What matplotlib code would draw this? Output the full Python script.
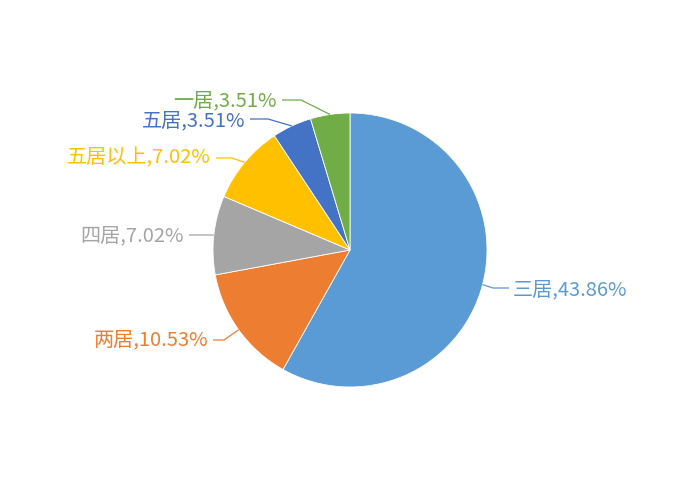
import numpy as np
import matplotlib
matplotlib.use('Agg')
import matplotlib.pyplot as plt

plt.rcParams['font.family'] = ['Noto Sans CJK SC', 'DejaVu Sans']

# 数据
labels = ['三居', '两居', '四居', '五居以上', '五居', '一居']
percents = [43.86, 10.53, 7.02, 7.02, 3.51, 3.51]
colors = ['#5B9BD5', '#ED7D31', '#A5A5A5', '#FFC000', '#4472C4', '#70AD47']

# 标签位置 (像素, 自上而下), 对齐方式, 引线拐点
label_pos = [(513, 290), (208, 340), (184, 236), (211, 158), (245, 121), (277, 101)]
label_ha = ['left', 'right', 'right', 'right', 'right', 'right']
elbows = [(493, 288), (224, 340), (206, 235), (232, 158), (268, 119), (301, 100)]

W, H = 700, 500
cx, cy, r = 350, 250, 137

fig = plt.figure(figsize=(7, 5), dpi=100)
ax = fig.add_axes([0, 0, 1, 1])

wedges, _ = ax.pie(percents, colors=colors, startangle=90, counterclock=False,
                   center=(cx, H - cy), radius=r, frame=True,
                   wedgeprops=dict(edgecolor='white', linewidth=0.6))
ax.set_xlim(0, W)
ax.set_ylim(0, H)
ax.set_aspect('equal')
ax.axis('off')

for w, lab, p, c, (tx, ty), ha, (ex, ey) in zip(wedges, labels, percents, colors,
                                                label_pos, label_ha, elbows):
    mid = np.deg2rad((w.theta1 + w.theta2) / 2)
    px = cx + r * np.cos(mid)
    py = (H - cy) + r * np.sin(mid)
    end_x = tx - 4 if ha == 'left' else tx + 5
    ax.plot([px, ex, end_x], [py, H - ey, H - ey], color=c, lw=0.9,
            solid_capstyle='butt')
    ax.text(tx, H - ty, f'{lab},{p:.2f}%', color=c, fontsize=14.5,
            fontweight='light', ha=ha, va='center')

plt.savefig('out.png', dpi=100)
